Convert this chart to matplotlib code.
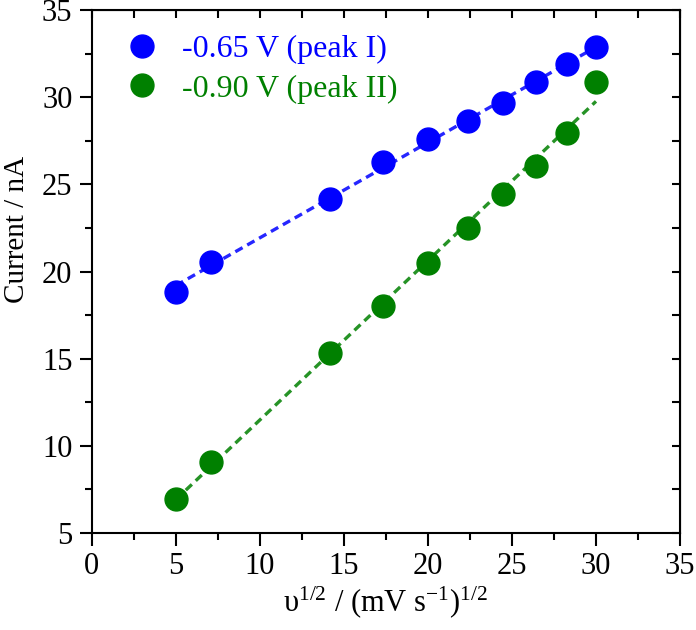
#!/usr/bin/env python3
import matplotlib as mpl
import matplotlib.pyplot as plt
import numpy as np

mpl.use("Agg")

# square root of scan rate, (mV s-1)^1/2
scanRates = [25, 50, 200, 300, 400, 500, 600, 700, 800, 900]
sqrtRate = np.sqrt(scanRates)

# peak currents, nA
peakI = [18.85, 20.55, 24.15, 26.3, 27.6, 28.65, 29.65, 30.85, 31.9, 32.9]
peakII = [6.95, 9.1, 15.35, 18.05, 20.5, 22.5, 24.45, 26.05, 27.95, 30.9]

labels = ["-0.65 V (peak I)", "-0.90 V (peak II)"]
colors = ["#0000ff", "#008000"]

plt.rcParams["font.family"] = ["Liberation Serif", "DejaVu Serif"]
plt.rcParams["mathtext.fontset"] = "custom"
plt.rcParams["mathtext.rm"] = "Liberation Serif"
plt.rcParams["mathtext.it"] = "Liberation Serif"

fig = plt.figure(figsize=(6.96, 6.3), dpi=100)
ax = fig.add_axes([0.132, 0.154, 0.845, 0.830])

for yData, color, label in zip([peakI, peakII], colors, labels):
    # linear fit through the points
    slope, intercept = np.polyfit(sqrtRate, yData, 1)
    xFit = np.array([sqrtRate[0], sqrtRate[-1]])
    ax.plot(xFit, slope * xFit + intercept, linestyle=(0, (2.5, 1.6)),
            color=color, linewidth=2.4, alpha=0.85, zorder=2)
    ax.plot(sqrtRate, yData, "o", color=color, markersize=16.5,
            label=label, zorder=3)

xMajor = np.arange(0, 36, 5)
yMajor = np.arange(5, 36, 5)
xMinor = np.arange(2.5, 35, 5)
yMinor = np.arange(7.5, 35, 5)

ax.set_xlim(0, 35)
ax.set_ylim(5, 35)
ax.set_xticks(xMajor)
ax.set_yticks(yMajor)
ax.set_xticks(xMinor, minor=True)
ax.set_yticks(yMinor, minor=True)
ax.tick_params(which="both", direction="out", labelsize=22, width=1.5)
ax.tick_params(which="major", length=9, pad=5)
ax.tick_params(which="minor", length=5)
for spine in ax.spines.values():
    spine.set_linewidth(1.5)

# mirrored ticks on top and right, pointing inward
top = ax.secondary_xaxis("top")
top.set_xticks(xMajor)
top.set_xticks(xMinor, minor=True)
top.tick_params(which="both", direction="in", length=6, width=1.5,
                labeltop=False)
right = ax.secondary_yaxis("right")
right.set_yticks(yMajor)
right.set_yticks(yMinor, minor=True)
right.tick_params(which="both", direction="in", length=6, width=1.5,
                  labelright=False)

ax.set_xlabel(r"υ$^{\mathrm{1/2}}$ / (mV s$^{\mathrm{-1}}$)$^{\mathrm{1/2}}$",
              fontsize=22, labelpad=2)
ax.set_ylabel("Current / nA", fontsize=21)
ax.yaxis.set_label_coords(-0.105, 0.58)

legend = ax.legend(loc="upper left", frameon=False, fontsize=23,
                   handlelength=1.0, handletextpad=0.75, borderaxespad=0.0,
                   labelspacing=0.33, bbox_to_anchor=(0.037, 0.978))
for text, color in zip(legend.get_texts(), colors):
    text.set_color(color)

plt.savefig("out.png", dpi=100)
